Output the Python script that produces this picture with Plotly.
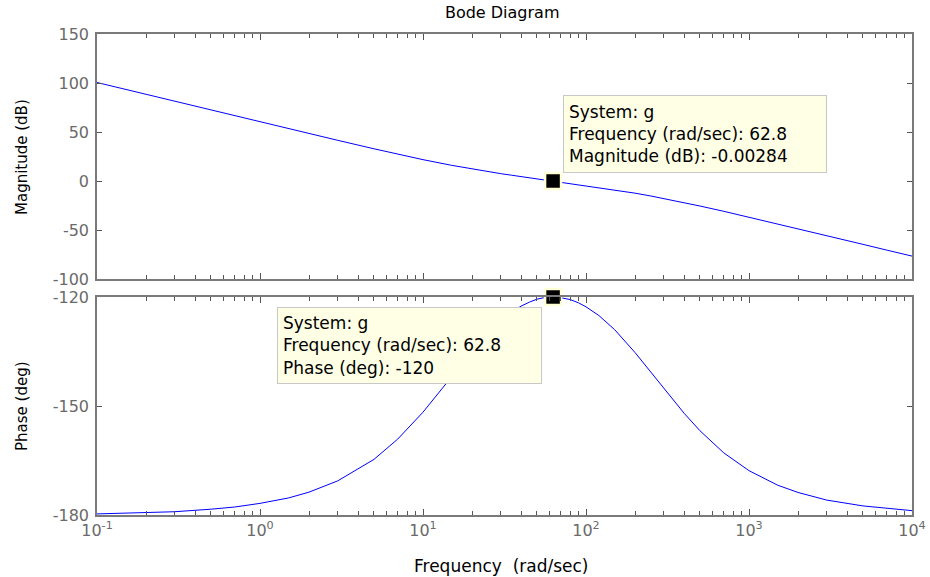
import plotly.graph_objects as go

# Data
freq = [0.1, 0.15, 0.2, 0.3, 0.5, 0.7, 1, 1.5, 2, 3, 5, 7, 10, 15, 20, 25,
        30, 35, 40, 45, 50, 55, 62.8, 70, 80, 90, 100, 120, 150, 200, 250,
        300, 400, 500, 700, 1000, 1500, 2000, 3000, 5000, 7000, 10000]
magnitude_db = [100.5, 93.4, 88.4, 81.4, 72.5, 66.7, 60.5, 53.5, 48.5, 41.5,
                32.9, 27.4, 21.8, 16.0, 12.2, 9.6, 7.5, 5.9, 4.5, 3.3, 2.25,
                1.3, 0.0, -1.1, -2.4, -3.6, -4.65, -6.6, -9.0, -12.4, -15.3,
                -17.8, -22.0, -25.5, -30.9, -36.9, -43.8, -48.7, -55.8, -64.6,
                -70.5, -76.6]
phase_deg = [-179.7, -179.5, -179.4, -179.1, -178.4, -177.8, -176.8, -175.3,
             -173.7, -170.6, -164.7, -159.1, -151.7, -142.0, -135.0, -130.0,
             -126.6, -124.2, -122.5, -121.4, -120.6, -120.2, -120.0, -120.2,
             -120.7, -121.6, -122.7, -125.1, -129.0, -135.3, -140.7, -145.2,
             -152.0, -156.8, -162.9, -167.8, -171.8, -173.8, -175.9, -177.5,
             -178.2, -178.8]

tip_freq = 62.8
tip_mag = -0.00284
tip_phase = -120

x_tickvals = [0.1, 1, 10, 100, 1000, 10000]
x_ticktext = ["10<sup>-1</sup>", "10<sup>0</sup>", "10<sup>1</sup>",
              "10<sup>2</sup>", "10<sup>3</sup>", "10<sup>4</sup>"]
mag_ticks = [-100, -50, 0, 50, 100, 150]
mag_ticktext = ["-100", "-50", "0", "50", "100", "150"]
phase_ticks = [-180, -150, -120]
phase_ticktext = ["-180", "-150", "-120"]

minor_vals = [m * 10 ** e for e in range(-1, 4) for m in range(2, 10)]

FONT = "DejaVu Sans, Liberation Sans, sans-serif"
AXIS_COLOR = "#7a7a7a"
TICK_COLOR = "#555555"
TICK_FONT = dict(family=FONT, size=16, color="#6a6a6a")

fig = go.Figure()
fig.add_trace(go.Scatter(x=freq, y=magnitude_db, mode="lines",
                         line=dict(color="#0000ff", width=1),
                         xaxis="x", yaxis="y", showlegend=False))
fig.add_trace(go.Scatter(x=freq, y=phase_deg, mode="lines",
                         line=dict(color="#0000ff", width=1),
                         xaxis="x2", yaxis="y2", showlegend=False))
fig.add_trace(go.Scatter(x=[tip_freq], y=[tip_mag], mode="markers",
                         marker=dict(symbol="square", size=16, color="black",
                                     line=dict(color="#ffffd8", width=2.5)),
                         xaxis="x", yaxis="y", showlegend=False, cliponaxis=False))
fig.add_trace(go.Scatter(x=[tip_freq], y=[tip_phase], mode="markers",
                         marker=dict(symbol="square", size=16, color="black",
                                     line=dict(color="#ffffd8", width=2.5)),
                         xaxis="x2", yaxis="y2", showlegend=False, cliponaxis=False))

common_x = dict(type="log", range=[-1, 4], tickmode="array", tickvals=x_tickvals,
                showline=True, linecolor=AXIS_COLOR, linewidth=1.5,
                mirror="allticks", ticks="inside", ticklen=6, tickcolor=TICK_COLOR,
                tickwidth=1, showgrid=False, zeroline=False, automargin=False,
                minor=dict(tickmode="array", tickvals=minor_vals, ticks="inside",
                           ticklen=4, tickcolor=TICK_COLOR, tickwidth=1,
                           showgrid=False))
common_y = dict(showline=True, linecolor=AXIS_COLOR, linewidth=1.5,
                mirror="allticks", ticks="inside", ticklen=5, tickcolor=TICK_COLOR,
                showgrid=False, zeroline=False, tickfont=TICK_FONT,
                automargin=False, ticklabelstandoff=3)

fig.update_layout(
    width=930, height=577,
    margin=dict(l=97, r=18, t=34, b=62, autoexpand=False),
    paper_bgcolor="white", plot_bgcolor="white",
    font=dict(family=FONT, color="black"),
    title=dict(text="Bode Diagram", x=0.54, xanchor="center", xref="container",
               y=1 - 12 / 577, yanchor="middle", yref="container",
               font=dict(family=FONT, size=16, color="black")),
    xaxis=dict(domain=[0, 1], anchor="y", showticklabels=False, **common_x),
    xaxis2=dict(domain=[0, 1], anchor="y2", ticktext=x_ticktext,
                tickfont=TICK_FONT, **common_x),
    yaxis=dict(domain=[0.4906, 1.0], range=[-100, 150], tickmode="array",
               tickvals=mag_ticks, ticktext=mag_ticktext, **common_y),
    yaxis2=dict(domain=[0.0, 0.4532], range=[-180, -120], tickmode="array",
                tickvals=phase_ticks, ticktext=phase_ticktext, **common_y),
)

fig.add_annotation(xref="paper", yref="paper", x=(22 - 97) / 815,
                   y=(515 - 157) / 481, text="Magnitude (dB)", textangle=-90,
                   showarrow=False, xanchor="center", yanchor="middle",
                   font=dict(family=FONT, size=15, color="black"))
fig.add_annotation(xref="paper", yref="paper", x=(22 - 97) / 815,
                   y=(515 - 406) / 481, text="Phase (deg)", textangle=-90,
                   showarrow=False, xanchor="center", yanchor="middle",
                   font=dict(family=FONT, size=15, color="black"))
fig.add_annotation(xref="paper", yref="paper", x=(501 - 97) / 815,
                   y=(515 - 566) / 481, text="Frequency\u00a0\u00a0(rad/sec)",
                   showarrow=False, xanchor="center", yanchor="middle",
                   font=dict(family=FONT, size=17, color="black"))

tip_font = dict(family=FONT, size=17, color="black")
fig.add_annotation(xref="paper", yref="paper", x=(563 - 97) / 815,
                   y=(515 - 95) / 481,
                   xanchor="left", yanchor="top", showarrow=False, align="left",
                   text=f"System: g<br>Frequency (rad/sec): {tip_freq}<br>Magnitude (dB): {tip_mag}",
                   bgcolor="#ffffe6", bordercolor="#c8c8c8", borderwidth=1,
                   borderpad=5, width=252, height=66, font=tip_font)
fig.add_annotation(xref="paper", yref="paper", x=(277 - 97) / 815,
                   y=(515 - 307) / 481,
                   xanchor="left", yanchor="top", showarrow=False, align="left",
                   text=f"System: g<br>Frequency (rad/sec): {tip_freq}<br>Phase (deg): {tip_phase}",
                   bgcolor="#ffffe6", bordercolor="#c8c8c8", borderwidth=1,
                   borderpad=5, width=253, height=65, font=tip_font)

fig.write_html("out.html", config={"displayModeBar": False},
               post_script="document.body.style.margin='0';"
                           "document.body.style.overflow='hidden';")
